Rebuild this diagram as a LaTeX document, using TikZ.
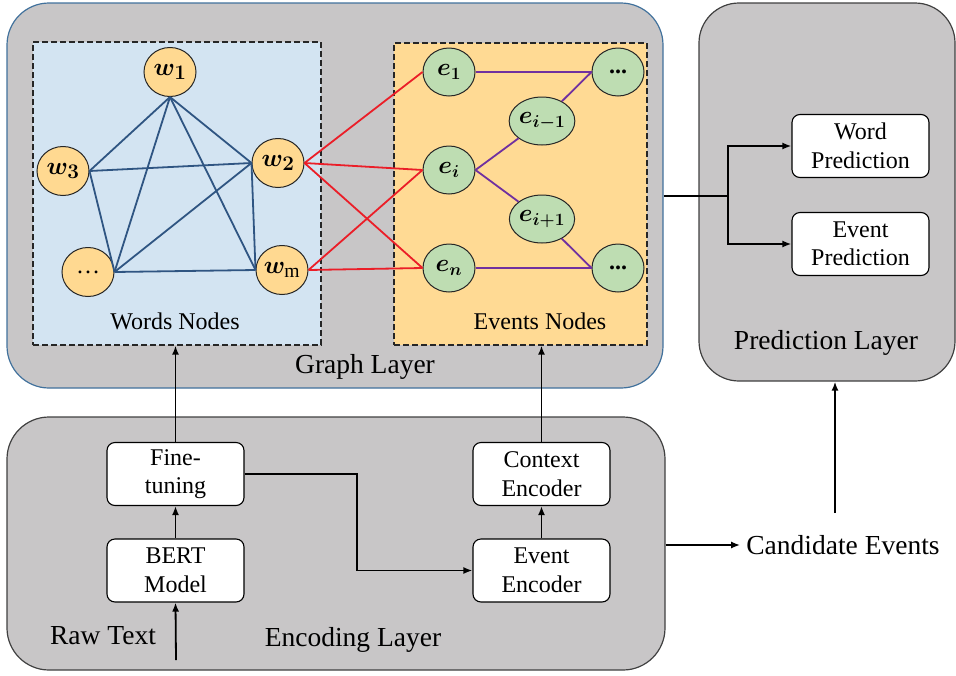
\documentclass[tikz,border=0pt]{standalone}
\usepackage{fontspec}
\setmainfont{LiberationSerif}[Extension=.ttf, UprightFont=*-Regular, BoldFont=*-Bold, ItalicFont=*-Italic, BoldItalicFont=*-BoldItalic]
\usepackage{amsmath,bm}
\usetikzlibrary{shapes.geometric,arrows.meta}
\definecolor{layergray}{RGB}{200,198,199}
\definecolor{graphborder}{RGB}{65,113,156}
\definecolor{wordsbg}{RGB}{211,228,242}
\definecolor{eventsbg}{RGB}{255,218,148}
\definecolor{wnode}{RGB}{255,217,145}
\definecolor{enode}{RGB}{190,221,178}
\definecolor{bluelink}{RGB}{47,85,130}
\definecolor{redlink}{RGB}{235,30,40}
\definecolor{purplelink}{RGB}{112,48,160}
\tikzset{
  layer/.style={draw=black!75, line width=1.2pt, fill=layergray, rounded corners=42pt, inner sep=0pt},
  dashbox/.style={draw=black!85, line width=1.2pt, dash pattern=on 6pt off 3pt, inner sep=0pt},
  wn/.style={ellipse, draw=black!85, line width=1pt, fill=wnode, minimum width=52pt, minimum height=49pt, inner sep=0pt, font=\fontsize{28}{30}\selectfont},
  en/.style={ellipse, draw=black!85, line width=1pt, fill=enode, minimum width=52pt, minimum height=48pt, inner sep=0pt, font=\fontsize{27}{30}\selectfont},
  pbox/.style={draw=black, line width=1.1pt, fill=white, rounded corners=8pt, minimum width=137pt, minimum height=63pt, inner sep=0pt, align=center, font=\fontsize{24}{28.5}\selectfont},
  biglabel/.style={font=\fontsize{27.5}{30}\selectfont, inner sep=0pt},
  smalllabel/.style={font=\fontsize{24}{28}\selectfont, inner sep=0pt},
  arr/.style={line width=1.8pt, -{Latex[length=9pt,width=7pt]}},
  plain/.style={line width=1.8pt},
  blink/.style={draw=bluelink, line width=1.8pt},
  rlink/.style={draw=redlink, line width=1.8pt},
  plink/.style={draw=purplelink, line width=1.8pt},
}
\begin{document}
\begin{tikzpicture}[x=1pt,y=-1pt]
\useasboundingbox (0,0) rectangle (956,675);
% layers
\node[layer, draw=graphborder, minimum width=656pt, minimum height=385pt] (graph) at (335,195.5) {};
\node[layer, minimum width=256pt, minimum height=378pt, rounded corners=40pt] (pred) at (827,192) {};
\node[layer, minimum width=658pt, minimum height=253pt] (enc) at (336,543.5) {};
% dashed boxes
\node[dashbox, fill=wordsbg, minimum width=288pt, minimum height=303pt] (words) at (177,193.5) {};
\node[dashbox, fill=eventsbg, minimum width=253pt, minimum height=302pt] (events) at (520.5,194) {};
% layer labels
\node[biglabel] (gl) at (365,367) {Graph Layer};
\node[biglabel] (pl) at (826,343) {Prediction Layer};
\node[biglabel] (el) at (353,640) {Encoding Layer};
\node[biglabel] (raw) at (103,636) {Raw Text};
\node[biglabel] (cand) at (843,545) {Candidate Events};
\node[smalllabel] (wl) at (175,321) {Words Nodes};
\node[smalllabel] (evl) at (540,321) {Events Nodes};
% word nodes
\node[wn] (w1) at (170,72) {$\bm{w_1}$};
\node[wn] (w3) at (63,171) {$\bm{w_3}$};
\node[wn] (w2) at (278,163) {$\bm{w_2}$};
\node[wn, font=\fontsize{24}{26}\selectfont] (wd) at (88,272) {\dots};
\node[wn] (wm) at (282,270) {$\bm{w}_{\text{m}}$};
% event nodes
\node[en] (e1) at (449,72) {$\bm{e_1}$};
\node[en] (ei) at (449,170) {$\bm{e_i}$};
\node[en] (eN) at (449,268) {$\bm{e_n}$};
\node[en, font=\fontsize{25}{27}\selectfont] (eim) at (542,121) {$\bm{e_{i-1}}$};
\node[en, font=\fontsize{25}{27}\selectfont] (eip) at (542,219) {$\bm{e_{i+1}}$};
\node[en, font=\fontsize{24}{26}\selectfont] (dt) at (618,72) {\textbf{...}};
\node[en, font=\fontsize{24}{26}\selectfont] (db) at (618,268) {\textbf{...}};
% blue word links
\draw[blink] (w1.south) -- (w3.east);
\draw[blink] (w1.south) -- (wd.east);
\draw[blink] (w1.south) -- (wm.west);
\draw[blink] (w1.south) -- (w2.west);
\draw[blink] (w3.east) -- (w2.west);
\draw[blink] (w3.east) -- (wd.east);
\draw[blink] (wd.east) -- (w2.west);
\draw[blink] (wd.east) -- (wm.west);
\draw[blink] (w2.west) -- (wm.west);
% red links
\draw[rlink] (w2.east) -- (e1.west);
\draw[rlink] (w2.east) -- (ei.west);
\draw[rlink] (w2.east) -- (eN.west);
\draw[rlink] (wm.east) -- (ei.west);
\draw[rlink] (wm.east) -- (eN.west);
% purple links
\draw[plink] (e1.east) -- (dt.west);
\draw[plink] (ei.east) -- (eim);
\draw[plink] (eim) -- (dt.west);
\draw[plink] (ei.east) -- (eip);
\draw[plink] (eip) -- (db.west);
\draw[plink] (eN.east) -- (db.west);
% prediction boxes
\node[pbox] (wp) at (860.5,146) {Word\\Prediction};
\node[pbox] (ep) at (860.5,244) {Event\\Prediction};
% encoding boxes
\node[pbox] (ft) at (175.5,474) {Fine-\\tuning};
\node[pbox] (bert) at (175.5,570.5) {BERT\\Model};
\node[pbox] (ce) at (541.5,474) {Context\\Encoder};
\node[pbox] (ee) at (541.5,570.5) {Event\\Encoder};
% connectors
\coordinate (br) at (728,196);
\draw[plain] (graph.east |- br) -- (br);
\draw[arr] (br) |- (wp.west);
\draw[arr] (br) |- (ep.west);
\coordinate (rawstart) at (176,660);
\draw[arr] (rawstart) -- (bert.south);
\draw[arr] (bert.north) -- (ft.south);
\draw[arr] (ft.north) -- (ft.north |- words.south);
\coordinate (bend) at (357,0);
\draw[arr] (ft.east) -| (bend |- ee.west) -- (ee.west);
\draw[arr] (ee.north) -- (ce.south);
\draw[arr] (ce.north) -- (ce.north |- events.south);
\draw[arr] (enc.east |- cand.west) -- ([xshift=-6pt]cand.west);
\coordinate (cup) at (835,513);
\draw[arr] (cup) -- (cup |- pred.south);
\end{tikzpicture}
\end{document}
